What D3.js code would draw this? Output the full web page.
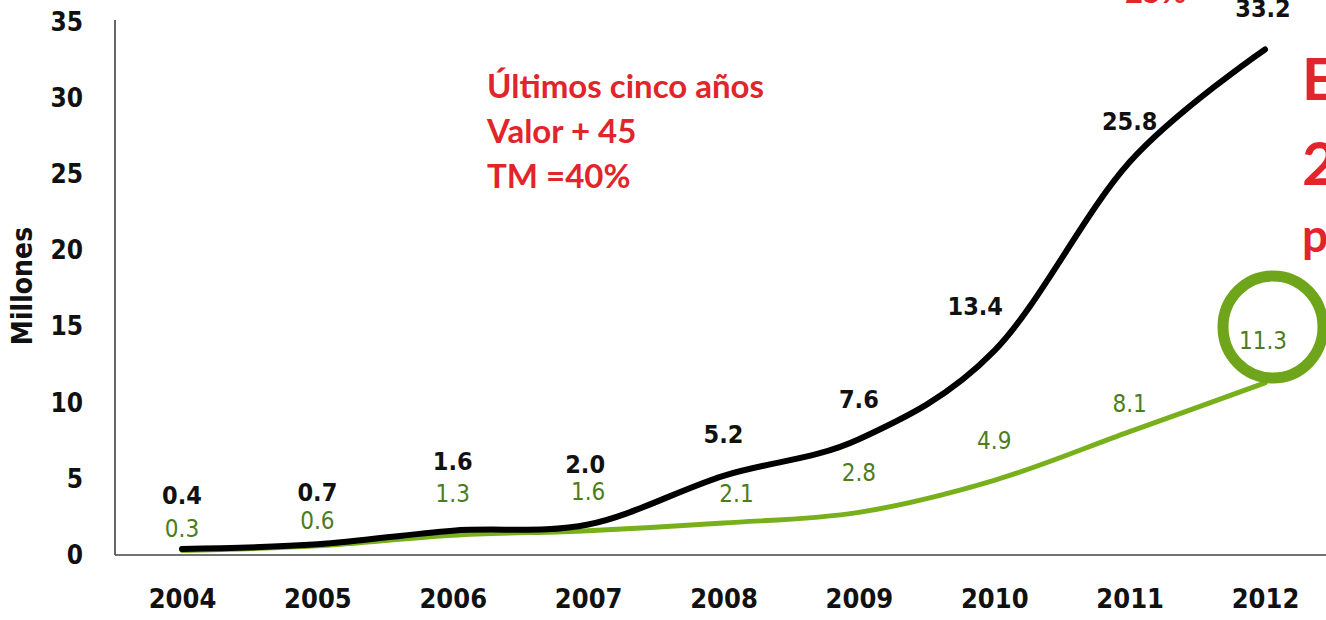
<!DOCTYPE html>
<html>
<head>
<meta charset="utf-8">
<script src="https://cdn.jsdelivr.net/npm/d3@7"></script>
<style>
  html, body { margin: 0; padding: 0; background: #fff; overflow: hidden; }
  svg { display: block; }
</style>
</head>
<body>
<script>
// datos del grafico
var years = ['2004', '2005', '2006', '2007', '2008', '2009', '2010', '2011', '2012'];
var totalValues = [0.4, 0.7, 1.6, 2.0, 5.2, 7.6, 13.4, 25.8, 33.2];
var greenValues = [0.3, 0.6, 1.3, 1.6, 2.1, 2.8, 4.9, 8.1, 11.3];
var yTicks = [0, 5, 10, 15, 20, 25, 30, 35];
var noteLines = ['Últimos cinco años', 'Valor + 45', 'TM =40%'];

window.onload = function(){

    var width = 1326, height = 620;
    var svg = d3.select(document.body).append('svg')
        .attr('width', width)
        .attr('height', height);

    var x = d3.scalePoint().domain(years).range([182, 1265]);
    var y = d3.scaleLinear().domain([0, 35]).range([555, 22]);

    var axisFont = '"DejaVu Sans Condensed", "DejaVu Sans", sans-serif';
    var red = '#e2242b';

    // eje y
    var yAxis = svg.append('g')
        .attr('transform', 'translate(115,0)')
        .call(d3.axisLeft(y).tickValues(yTicks).tickSize(0).tickPadding(32));
    yAxis.select('.domain').attr('stroke', '#333').attr('stroke-width', 1.5)
        .attr('d', 'M0,20V555');
    yAxis.selectAll('text')
        .attr('font-family', axisFont).attr('font-weight', 'bold')
        .attr('font-size', 26).attr('fill', '#111');

    // eje x
    svg.append('line')
        .attr('x1', 115).attr('x2', width)
        .attr('y1', 555).attr('y2', 555)
        .attr('stroke', '#444').attr('stroke-width', 1.5);
    var xAxis = svg.append('g')
        .attr('transform', 'translate(0,555)')
        .call(d3.axisBottom(x).tickSize(0).tickPadding(34));
    xAxis.select('.domain').remove();
    xAxis.selectAll('text')
        .attr('font-family', axisFont).attr('font-weight', 'bold')
        .attr('font-size', 27).attr('fill', '#111');

    svg.append('text')
        .attr('transform', 'translate(32,286) rotate(-90)')
        .attr('text-anchor', 'middle')
        .attr('font-family', axisFont).attr('font-weight', 'bold')
        .attr('font-size', 28).attr('fill', '#111')
        .text('Millones');

    // lineas
    var line = function(values){
        return d3.line()
            .x(function(d, i){ return x(years[i]); })
            .y(function(d){ return y(d); })
            .curve(d3.curveCatmullRom.alpha(0))(values);
    };

    svg.append('path')
        .attr('d', line(greenValues))
        .attr('fill', 'none').attr('stroke', '#78b01c')
        .attr('stroke-width', 5).attr('stroke-linecap', 'round');

    svg.append('path')
        .attr('d', line(totalValues))
        .attr('fill', 'none').attr('stroke', '#000')
        .attr('stroke-width', 6).attr('stroke-linecap', 'round');

    // ajustes de las etiquetas (dx, dy respecto al punto)
    var blackNudge = [[0,-54],[0,-52],[0,-70],[-3,-61],[0,-42],[0,-40],[-19,-45],[0,-41],[-2,-41]];
    var greenNudge = [[0,-22],[0,-26],[0,-42],[0,-40],[13,-30],[0,-40],[0,-40],[0,-29],[-2,-43]];

    svg.append('g').selectAll('text').data(totalValues).enter()
        .append('text')
        .attr('x', function(d, i){ return x(years[i]) + blackNudge[i][0]; })
        .attr('y', function(d, i){ return y(d) + blackNudge[i][1] + 9; })
        .attr('text-anchor', 'middle')
        .attr('font-family', axisFont).attr('font-weight', 'bold')
        .attr('font-size', 25).attr('fill', '#111')
        .text(function(d){ return d.toFixed(1); });

    svg.append('g').selectAll('text').data(greenValues).enter()
        .append('text')
        .attr('x', function(d, i){ return x(years[i]) + greenNudge[i][0]; })
        .attr('y', function(d, i){ return y(d) + greenNudge[i][1] + 9; })
        .attr('text-anchor', 'middle')
        .attr('font-family', axisFont)
        .attr('font-size', 24).attr('fill', '#4b7d1c')
        .text(function(d){ return d.toFixed(1); });

    // circulo verde sobre 2012
    svg.append('ellipse')
        .attr('cx', 1273).attr('cy', 327)
        .attr('rx', 50).attr('ry', 51)
        .attr('fill', 'none').attr('stroke', '#6fa51a').attr('stroke-width', 11);

    // notas en rojo
    var redFont = 'Lato, "Open Sans", sans-serif';
    svg.append('g').selectAll('text').data(noteLines).enter()
        .append('text')
        .attr('x', 487)
        .attr('y', function(d, i){ return 98 + i * 45; })
        .attr('font-family', redFont).attr('font-weight', 'bold')
        .attr('font-size', 33).attr('fill', red)
        .text(function(d){ return d; });

    svg.append('text')
        .attr('x', 1125).attr('y', 3)
        .attr('font-family', redFont).attr('font-weight', 'bold')
        .attr('font-size', 31).attr('fill', red)
        .text('25%');

    var cut = [['E', 100, 58], ['2', 185, 60], ['p', 252, 46]];
    svg.append('g').selectAll('text').data(cut).enter()
        .append('text')
        .attr('x', 1302)
        .attr('y', function(d){ return d[1]; })
        .attr('font-family', redFont).attr('font-weight', 'bold')
        .attr('font-size', function(d){ return d[2]; })
        .attr('fill', red)
        .text(function(d){ return d[0]; });
};
</script>
</body>
</html>
